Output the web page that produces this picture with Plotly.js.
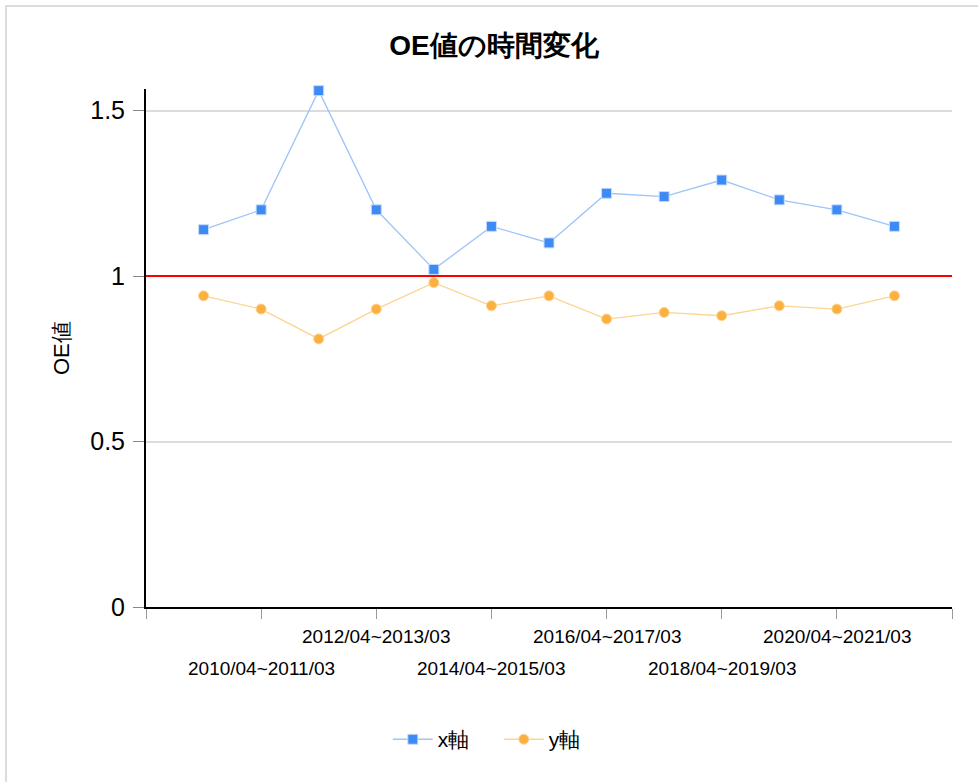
<!DOCTYPE html>
<html>
<head>
<meta charset="utf-8">
<script src="https://cdn.plot.ly/plotly-3.0.1.min.js"></script>
<style>
  html, body { margin: 0; padding: 0; background: #ffffff; }
  #wrap { position: relative; width: 978px; height: 782px; overflow: hidden; }
  #chart { position: absolute; left: 0; top: 0; width: 978px; height: 782px; }
  #frame { position: absolute; left: 5px; top: 5px; width: 1000px; height: 1000px;
           border-left: 2px solid #dcdcdc; border-top: 2px solid #dcdcdc; pointer-events: none; }
</style>
</head>
<body>
<div id="wrap">
  <div id="chart"></div>
  <div id="frame"></div>
</div>
<script>
const periods = [
  "2009/04~2010/03", "2010/04~2011/03", "2011/04~2012/03", "2012/04~2013/03",
  "2013/04~2014/03", "2014/04~2015/03", "2015/04~2016/03", "2016/04~2017/03",
  "2017/04~2018/03", "2018/04~2019/03", "2019/04~2020/03", "2020/04~2021/03",
  "2021/04~2022/03"
];
const xAxisOE = [1.14, 1.20, 1.56, 1.20, 1.02, 1.15, 1.10, 1.25, 1.24, 1.29, 1.23, 1.20, 1.15];
const yAxisOE = [0.94, 0.90, 0.81, 0.90, 0.98, 0.91, 0.94, 0.87, 0.89, 0.88, 0.91, 0.90, 0.94];
const seriesNames = ["x軸", "y軸"];
const referenceValue = 1;
const titleText = "OE値の時間変化";
const yTitleText = "OE値";
const yTickVals = [0, 0.5, 1, 1.5];
const yTickText = ["0", "0.5", "1", "1.5"];

const pos = periods.map((p, i) => i + 1);

const traces = [
  {
    x: pos, y: xAxisOE, name: seriesNames[0], type: "scatter", mode: "lines+markers",
    cliponaxis: false,
    line: { color: "#9ec4f8", width: 1.3 },
    marker: { symbol: "square", size: 10, color: "#3d8af5", line: { color: "#c8ddfb", width: 1 } },
    text: periods, hovertemplate: "%{text}: %{y}<extra></extra>"
  },
  {
    x: pos, y: yAxisOE, name: seriesNames[1], type: "scatter", mode: "lines+markers",
    cliponaxis: false,
    line: { color: "#fdd493", width: 1.3 },
    marker: { symbol: "circle", size: 10, color: "#fbb040", line: { color: "#fdd493", width: 1 } },
    text: periods, hovertemplate: "%{text}: %{y}<extra></extra>"
  }
];

// staggered category labels every second period
const annotations = [];
pos.forEach((p, i) => {
  if (p % 2 === 0) {
    const upper = (p % 4 === 0);
    annotations.push({
      x: p, xref: "x", y: 0, yref: "paper",
      text: periods[i], showarrow: false,
      yanchor: "middle", xanchor: "center",
      yshift: upper ? -29 : -61,
      font: { family: "Liberation Sans, Arial, sans-serif", size: 19, color: "#000" }
    });
  }
});
annotations.push({
  x: 0, xref: "paper", y: 0.5, yref: "paper",
  text: yTitleText, showarrow: false, textangle: -90,
  xanchor: "center", yanchor: "middle", xshift: -85,
  font: { family: "Liberation Sans, Arial, sans-serif", size: 22, color: "#000" }
});

const layout = {
  width: 978, height: 782,
  margin: { l: 146, r: 26, t: 89, b: 175 },
  paper_bgcolor: "rgba(0,0,0,0)", plot_bgcolor: "#ffffff",
  font: { family: "Liberation Sans, Arial, sans-serif", color: "#000" },
  title: {
    text: "<b>" + titleText + "</b>",
    x: 0.505, xanchor: "center", y: 0.942, yanchor: "middle",
    font: { family: "Liberation Sans, Arial, sans-serif", size: 28, color: "#000" }
  },
  showlegend: true,
  legend: {
    orientation: "h", x: 0.30, xanchor: "left", y: -0.256, yanchor: "middle",
    font: { size: 21, color: "#000" }, itemwidth: 40,
    entrywidth: 56, entrywidthmode: "pixels"
  },
  xaxis: {
    range: [0, 14], tickmode: "array", tickvals: [0, 2, 4, 6, 8, 10, 12, 14],
    showticklabels: false, ticks: "outside", ticklen: 10, tickcolor: "#999", tickwidth: 1,
    showline: true, linecolor: "#000", linewidth: 2, showgrid: false, zeroline: false,
    fixedrange: true
  },
  yaxis: {
    range: [0, 1.565], tickmode: "array", tickvals: yTickVals, ticktext: yTickText,
    ticks: "outside", ticklen: 11, tickcolor: "#888", tickwidth: 1,
    ticklabelstandoff: 3,
    tickfont: { size: 25, color: "#000" },
    showline: true, linecolor: "#000", linewidth: 2,
    showgrid: true, gridcolor: "#dcdcdc", gridwidth: 2, zeroline: false,
    fixedrange: true
  },
  shapes: [{
    type: "line", xref: "paper", x0: 0, x1: 1, yref: "y", y0: referenceValue, y1: referenceValue,
    line: { color: "#ff0000", width: 2 }
  }],
  annotations: annotations
};

Plotly.newPlot("chart", traces, layout, { displayModeBar: false, staticPlot: true });
</script>
</body>
</html>
